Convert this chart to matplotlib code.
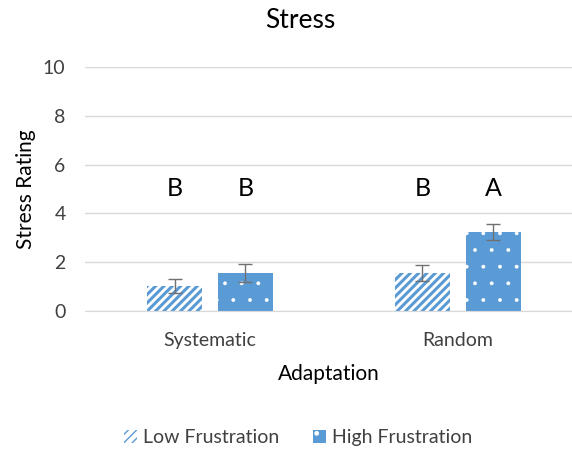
import numpy as np
import matplotlib
matplotlib.use("Agg")
from matplotlib import pyplot as plt

# data
categories = ["Systematic", "Random"]
low_vals = [1.02, 1.57]
high_vals = [1.55, 3.23]
low_err = [0.30, 0.33]
high_err = [0.38, 0.33]
low_letters = ["B", "B"]
high_letters = ["B", "A"]
series_names = ["Low Frustration", "High Frustration"]

plt.rcParams['font.family'] = ['Lato', 'DejaVu Sans']

blue = "#5B9BD5"
grid_col = "#D9D9D9"
text_col = "#404040"

fig = plt.figure(figsize=(5.72, 4.5), dpi=100)
ax = fig.add_axes([85/572, 139/450, 487/572, 244/450])

x = np.arange(len(categories))
off = 0.143
w = 0.222

b1 = ax.bar(x - off, low_vals, w, color="white", edgecolor=blue, linewidth=0,
            hatch="////", label=series_names[0], zorder=2)
b2 = ax.bar(x + off, high_vals, w, color=blue, edgecolor="white", linewidth=0,
            hatch=".", label=series_names[1], zorder=2)
# thick stripes, tiny dots
for p in b1:
    p.set_hatch_linewidth(2.2)
for p in b2:
    p.set_hatch_linewidth(0.3)

ax.errorbar(x - off, low_vals, yerr=low_err, fmt="none", ecolor="#707070",
            elinewidth=1, capsize=5, capthick=1, zorder=3)
ax.errorbar(x + off, high_vals, yerr=high_err, fmt="none", ecolor="#707070",
            elinewidth=1, capsize=5, capthick=1, zorder=3)

for i in range(len(categories)):
    ax.text(x[i] - off, 5.0, low_letters[i], ha="center", va="center",
            fontsize=18, color="black")
    ax.text(x[i] + off, 5.0, high_letters[i], ha="center", va="center",
            fontsize=18, color="black")

ax.set_xlim(-0.504, 1.46)
ax.set_ylim(0, 10)
ax.set_yticks([0, 2, 4, 6, 8, 10])
ax.set_xticks(x)
ax.set_xticklabels(categories)
ax.tick_params(axis="both", length=0, labelsize=14, colors=text_col)
ax.tick_params(axis="x", pad=15)
ax.tick_params(axis="y", pad=14)

ax.grid(axis="y", color=grid_col, linewidth=1, zorder=0)
ax.set_axisbelow(True)
for s in ["top", "right", "left"]:
    ax.spines[s].set_visible(False)
ax.spines["bottom"].set_color(grid_col)

ax.set_ylabel("Stress Rating", fontsize=15, color="black", labelpad=5)
ax.set_xlabel("Adaptation", fontsize=15, color="black", labelpad=11)
fig.text(300/572, 0.955, "Stress", ha="center", va="center", fontsize=19)

fig.legend(handles=[b1, b2], loc="center", bbox_to_anchor=(298/572, 0.027),
           ncol=2, frameon=False, fontsize=14, handlelength=0.7,
           handleheight=0.7, handletextpad=0.3, columnspacing=1.7,
           labelcolor=text_col)

fig.savefig("out.png", dpi=100)
